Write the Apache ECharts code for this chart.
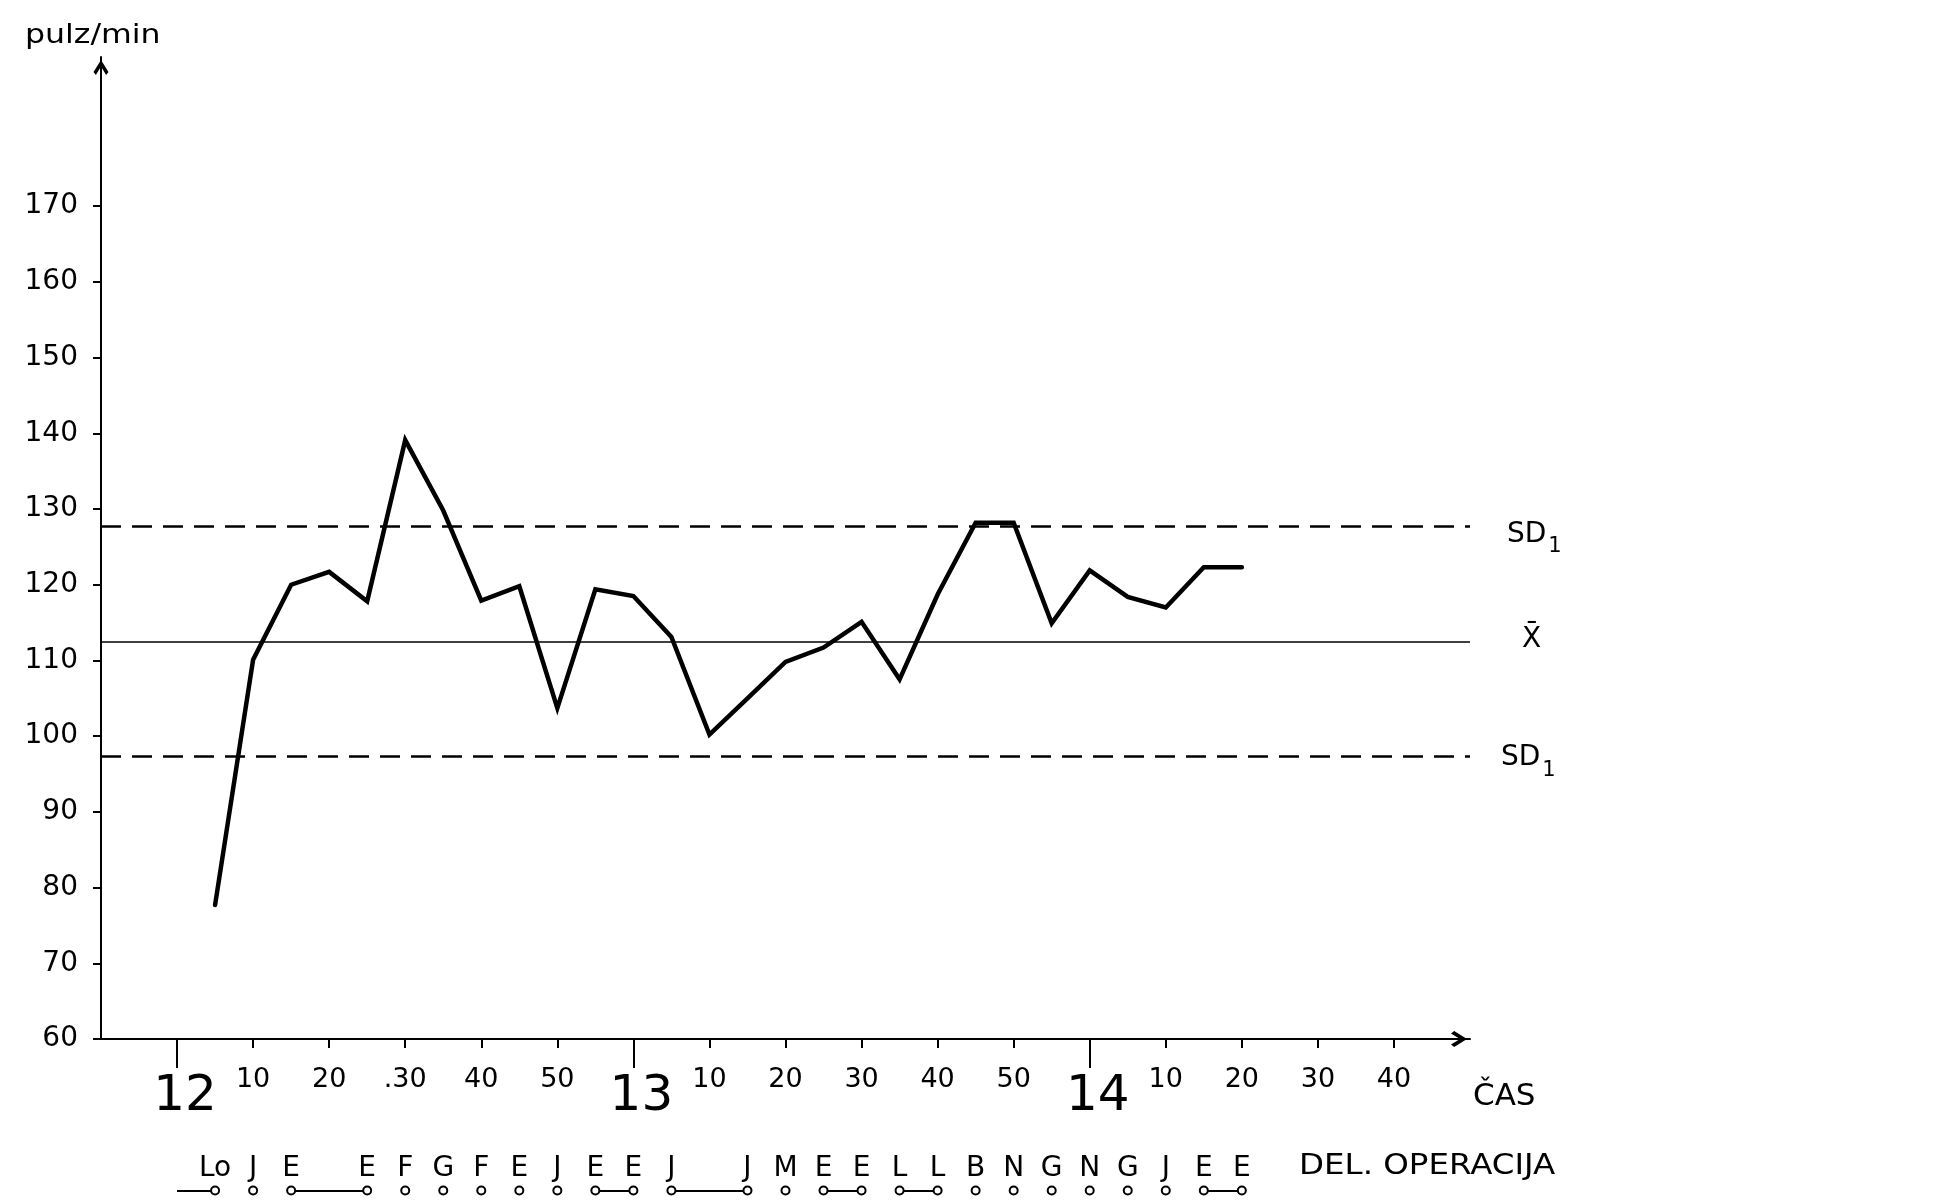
<!DOCTYPE html>
<html>
<head>
<meta charset="utf-8">
<title>pulz/min</title>
<script src="https://cdn.jsdelivr.net/npm/echarts@6/dist/echarts.min.js"></script>
<style>
  html, body { margin: 0; padding: 0; background: #fff; }
  #chart { width: 1958px; height: 1200px; }
</style>
</head>
<body>
<div id="chart"></div>
<script>
// Time of each reading, minutes after 12:00
const pulseTimes = [5, 10, 15, 20, 25, 30, 35, 40, 45, 50, 55, 60, 65, 70,
                    75, 80, 85, 90, 95, 100, 105, 110, 115, 120, 125, 130, 135, 140];
// Pulse rate (beats per minute) at each reading
const pulse = [77.7, 110.1, 120.0, 121.7, 117.8, 139.1, 129.8, 117.9, 119.8, 103.7,
               119.4, 118.5, 113.1, 100.2, 105.0, 109.8, 111.7, 115.1, 107.5, 118.7,
               128.2, 128.2, 114.9, 121.9, 118.4, 117.0, 122.3, 122.3];

// Mean and one standard deviation band
const meanPulse = 112.5;
const sdUpper = 127.7;
const sdLower = 97.4;

// Axis ticks and labels
const yTicks = [60, 70, 80, 90, 100, 110, 120, 130, 140, 150, 160, 170];
const minuteTicks = [10, 20, 30, 40, 50, 70, 80, 90, 100, 110, 130, 140, 150, 160];
const minuteLabels = ['10', '20', '.30', '40', '50', '10', '20', '30', '40', '50', '10', '20', '30', '40'];
const hourTicks = [0, 60, 120];
const hourLabels = ['12', '13', '14'];

// Work phases ("del operacija") marked along the time line
const opTimes = [5, 10, 15, 25, 30, 35, 40, 45, 50, 55, 60, 65, 75, 80, 85, 90, 95,
                 100, 105, 110, 115, 120, 125, 130, 135, 140];
const opCodes = ['Lo', 'J', 'E', 'E', 'F', 'G', 'F', 'E', 'J', 'E', 'E', 'J', 'J', 'M',
                 'E', 'E', 'L', 'L', 'B', 'N', 'G', 'N', 'G', 'J', 'E', 'E'];
// Phases that last over several minutes, drawn as a bar between two marks
const opSpans = [[0, 5], [15, 25], [55, 60], [65, 75], [85, 90], [95, 100], [135, 140]];

const FONT = 'DejaVu Sans';
const INK = '#000';
const X_MIN = -10, X_MAX = 170;
// open arrow head at the end of each axis
const ARROW = 'path://M50,0 L100,80 L84,100 L50,44 L16,100 L0,80 Z';

const chart = echarts.init(document.getElementById('chart'), null, { renderer: 'canvas' });

const sdRich = {
  a: { fontFamily: FONT, fontSize: 28, lineHeight: 28, color: INK },
  s: { fontFamily: FONT, fontSize: 21, lineHeight: 20, color: INK, verticalAlign: 'top', padding: [16, 0, 0, 2] }
};

const refLabel = (txt, extra) => Object.assign({
  show: true,
  position: 'end',
  formatter: txt,
  fontFamily: FONT,
  fontSize: 28,
  color: INK,
  rich: sdRich
}, extra);

const option = {
  animation: false,
  backgroundColor: '#fff',
  textStyle: { fontFamily: FONT, color: INK },
  grid: [
    { left: 101, right: 488, top: 57, bottom: 161, containLabel: false },
    { left: 101, right: 488, top: 1181, height: 20, containLabel: false }
  ],
  xAxis: [
    {
      type: 'value', gridIndex: 0, position: 'bottom', offset: 0,
      min: X_MIN, max: X_MAX,
      axisLine: {
        show: true, onZero: false,
        symbol: ['none', ARROW], symbolSize: [16, 22], symbolOffset: [0, -11],
        lineStyle: { color: INK, width: 2 }
      },
      axisTick: { show: true, customValues: minuteTicks, length: 9, lineStyle: { color: INK, width: 2 } },
      axisLabel: {
        show: true, customValues: minuteTicks, margin: 27,
        fontFamily: FONT, fontSize: 27, color: INK,
        formatter: (v) => minuteLabels[minuteTicks.indexOf(v)]
      },
      splitLine: { show: false }
    },
    {
      type: 'value', gridIndex: 0, position: 'bottom', offset: 0,
      min: X_MIN, max: X_MAX,
      axisLine: { show: false, onZero: false },
      axisTick: { show: true, customValues: hourTicks, length: 29, lineStyle: { color: INK, width: 2 } },
      axisLabel: {
        show: true, customValues: hourTicks, margin: 33,
        fontFamily: FONT, fontSize: 50, color: INK,
        padding: [0, 0, 0, 16],
        formatter: (v) => hourLabels[hourTicks.indexOf(v)]
      },
      splitLine: { show: false }
    },
    {
      type: 'value', gridIndex: 1, min: X_MIN, max: X_MAX, show: false
    }
  ],
  yAxis: [
    {
      type: 'value', gridIndex: 0, min: 60, max: 189.7,
      axisLine: {
        show: true, onZero: false,
        symbol: ['none', ARROW], symbolSize: [15, 21], symbolOffset: [0, -10.5],
        lineStyle: { color: INK, width: 2 }
      },
      axisTick: { show: true, customValues: yTicks, length: 8, lineStyle: { color: INK, width: 2 } },
      axisLabel: { show: true, customValues: yTicks, margin: 23, fontFamily: FONT, fontSize: 28, color: INK },
      splitLine: { show: false }
    },
    { type: 'value', gridIndex: 1, min: 0, max: 1, show: false }
  ],
  series: [
    {
      // mean and ±SD reference lines
      type: 'line', xAxisIndex: 0, yAxisIndex: 0, data: [], silent: true,
      markLine: {
        silent: true, symbol: ['none', 'none'], animation: false,
        data: [
          { yAxis: sdUpper, lineStyle: { color: INK, width: 2.5, type: [20, 11] },
            label: refLabel('{a|SD}{s|1}', { distance: 37, offset: [0, 8] }) },
          { yAxis: meanPulse, lineStyle: { color: INK, width: 1.5, type: 'solid' },
            label: refLabel('X̄', { distance: 52, offset: [0, -2] }) },
          { yAxis: sdLower, lineStyle: { color: INK, width: 2.5, type: [20, 11] },
            label: refLabel('{a|SD}{s|1}', { distance: 31, offset: [0, 2] }) }
        ]
      }
    },
    {
      name: 'pulz', type: 'line', xAxisIndex: 0, yAxisIndex: 0,
      data: pulseTimes.map((t, i) => [t, pulse[i]]),
      symbol: 'none', z: 5,
      lineStyle: { color: INK, width: 4.5, join: 'miter', cap: 'round' }
    },
    {
      type: 'lines', coordinateSystem: 'cartesian2d', xAxisIndex: 2, yAxisIndex: 1,
      data: opSpans.map(([a, b]) => ({ coords: [[a, 0.5], [b, 0.5]] })),
      lineStyle: { color: INK, width: 2, opacity: 1 }, z: 2, silent: true
    },
    {
      type: 'scatter', xAxisIndex: 2, yAxisIndex: 1, z: 3, silent: true,
      data: opTimes.map((t) => [t, 0.5]),
      symbol: 'circle', symbolSize: 8,
      itemStyle: { color: '#fff', borderColor: INK, borderWidth: 2, opacity: 1 },
      label: {
        show: true, position: 'top', distance: 3,
        fontFamily: FONT, fontSize: 28, color: INK,
        formatter: (p) => opCodes[p.dataIndex]
      }
    }
  ],
  graphic: [
    {
      type: 'text', x: 25, y: 36, scaleX: 1.17,
      style: { text: 'pulz/min', fontFamily: FONT, fontSize: 27, fill: INK, verticalAlign: 'middle' }
    },
    {
      type: 'text', left: 1473, top: 1081,
      style: { text: 'ČAS', fontFamily: FONT, fontSize: 31, fill: INK }
    },
    {
      type: 'text', x: 1299, y: 1166, scaleX: 1.12,
      style: { text: 'DEL. OPERACIJA', fontFamily: FONT, fontSize: 29, fill: INK, verticalAlign: 'middle' }
    }
  ]
};

chart.setOption(option);
</script>
</body>
</html>
